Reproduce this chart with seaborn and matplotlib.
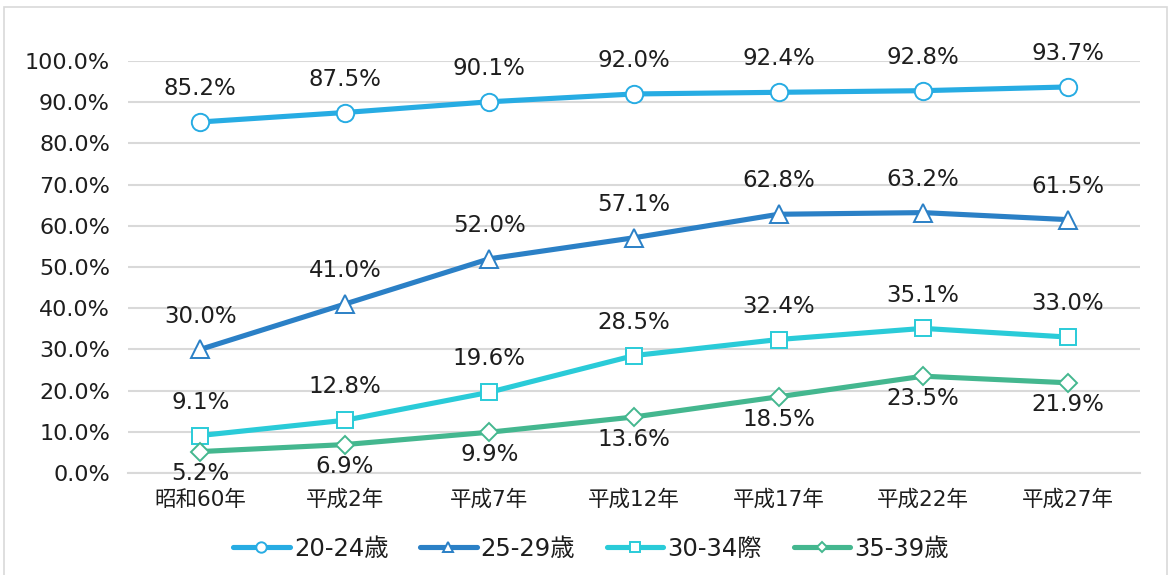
import matplotlib
matplotlib.use("Agg")
import matplotlib.pyplot as plt
import seaborn as sns
import pandas as pd
from matplotlib.patches import Rectangle
from matplotlib.ticker import FuncFormatter

categories = ["昭和60年", "平成2年", "平成7年", "平成12年", "平成17年", "平成22年", "平成27年"]
s_20_24 = [85.2, 87.5, 90.1, 92.0, 92.4, 92.8, 93.7]
s_25_29 = [30.0, 41.0, 52.0, 57.1, 62.8, 63.2, 61.5]
s_30_34 = [9.1, 12.8, 19.6, 28.5, 32.4, 35.1, 33.0]
s_35_39 = [5.2, 6.9, 9.9, 13.6, 18.5, 23.5, 21.9]
series_names = ["20-24歳", "25-29歳", "30-34際", "35-39歳"]
y_ticks = [0, 10, 20, 30, 40, 50, 60, 70, 80, 90, 100]

series_values = [s_20_24, s_25_29, s_30_34, s_35_39]
colors = ["#27ACE3", "#2B80C6", "#2ACBD8", "#44B78F"]
markers = ["o", "^", "s", "D"]
msizes = [12.5, 12.5, 12, 9]
leg_msizes = [7.5, 7.5, 7.5, 5.5]
label_pos = ["above", "above", "above", "below"]

sns.set_theme(style="white")
plt.rcParams["font.family"] = ["DejaVu Sans", "Noto Sans CJK JP"]

TXT = "#1E1E1E"
fig = plt.figure(figsize=(11.69, 5.75), dpi=100)
ax = fig.add_axes([128 / 1169, 1 - 473 / 575, (1140 - 128) / 1169, (473 - 61) / 575])

rows = []
for name, vals in zip(series_names, series_values):
    for i, v in enumerate(vals):
        rows.append({"x": i, "value": v, "series": name})
df = pd.DataFrame(rows)

for k, name in enumerate(series_names):
    sub = df[df["series"] == name]
    sns.lineplot(data=sub, x="x", y="value", ax=ax, color=colors[k], linewidth=3.7,
                 marker=markers[k], markersize=msizes[k], markerfacecolor="white",
                 markeredgecolor=colors[k], markeredgewidth=1.4, label=name,
                 zorder=3 + k)
    for i, v in enumerate(series_values[k]):
        if label_pos[k] == "above":
            ax.annotate(f"{v:.1f}%", (i, v), xytext=(0, 24), textcoords="offset points",
                        ha="center", va="center", fontsize=16.5, color=TXT)
        else:
            ax.annotate(f"{v:.1f}%", (i, v), xytext=(0, -16), textcoords="offset points",
                        ha="center", va="center", fontsize=16.5, color=TXT)

ax.set_xlim(-0.5, 6.5)
ax.set_ylim(0, 100)
ax.set_yticks(y_ticks)
ax.yaxis.set_major_formatter(FuncFormatter(lambda v, p: f"{v:.1f}%"))
ax.set_xticks(range(len(categories)))
ax.set_xticklabels(categories)
ax.tick_params(axis="y", labelsize=16, colors=TXT, length=0, pad=13)
ax.tick_params(axis="x", labelsize=15.5, colors=TXT, length=0, pad=12)
ax.set_xlabel("")
ax.set_ylabel("")
ax.grid(axis="y", color="#D9D9D9", linewidth=1.5)
ax.grid(axis="x", visible=False)
for side in ["top", "right", "left"]:
    ax.spines[side].set_visible(False)
ax.spines["bottom"].set_color("#D9D9D9")
ax.spines["bottom"].set_linewidth(1.5)

handles, labels = ax.get_legend_handles_labels()
ax.get_legend().remove()
leg = fig.legend(handles, labels, loc="center", bbox_to_anchor=(591 / 1169, 1 - 549 / 575), ncol=4,
                 frameon=False, fontsize=17.5, handlelength=2.33, columnspacing=1.3,
                 handletextpad=0.17)
for t in leg.get_texts():
    t.set_color(TXT)
for h, ms in zip(leg.legend_handles, leg_msizes):
    h.set_markersize(ms)

fig.patches.append(Rectangle((4 / 1169, -0.05), 1163 / 1169, 1.05 - 7 / 575,
                             transform=fig.transFigure, fill=False,
                             edgecolor="#D9D9D9", linewidth=1.2))

fig.savefig("out.png", dpi=100)
